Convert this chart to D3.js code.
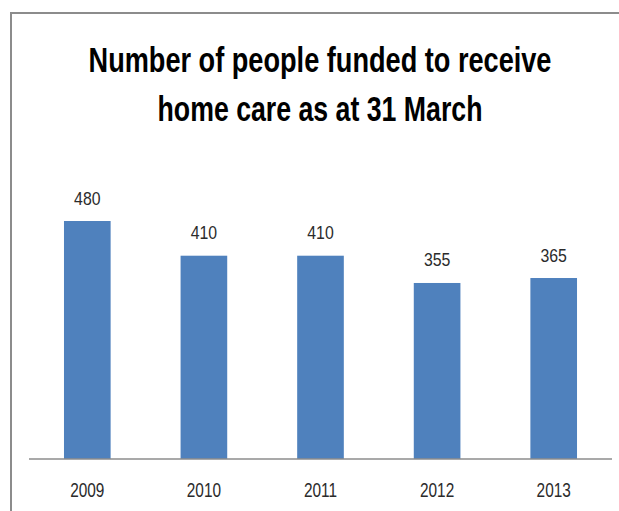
<!DOCTYPE html>
<html>
<head>
<meta charset="utf-8">
<script src="https://cdn.jsdelivr.net/npm/d3@7"></script>
<style>
  html, body { margin: 0; padding: 0; background: #fff; }
  svg { display: block; }
</style>
</head>
<body>
<svg id="chart" width="619" height="511"></svg>
<script>
// Chart data
const years = ["2009", "2010", "2011", "2012", "2013"];
const peopleFunded = [480, 410, 410, 355, 365];
const titleLines = ["Number of people funded to receive", "home care as at 31 March"];

const W = 619, H = 511;
const FONT = "'Liberation Sans', Arial, sans-serif";
const svg = d3.select("#chart");

// Condensed look: squeeze text horizontally around its anchor point
function placeCondensed(sel, xf, yf, sx) {
  sel.attr("x", 0).attr("y", 0)
    .attr("transform", (d, i) => `translate(${xf(d, i)},${yf(d, i)}) scale(${sx},1)`);
}

// Frame: top and left edges of the chart box
svg.append("line")
  .attr("x1", 10).attr("x2", W).attr("y1", 13).attr("y2", 13)
  .attr("stroke", "#8c8c8c").attr("stroke-width", 2);
svg.append("line")
  .attr("x1", 11).attr("x2", 11).attr("y1", 12).attr("y2", H)
  .attr("stroke", "#8c8c8c").attr("stroke-width", 2);

// Title (bold, condensed), each line fitted to its width
const titleWidths = [463, 325];
const titleBaselines = [71.5, 120.5];
svg.append("g").selectAll("text")
  .data(titleLines)
  .join("text")
  .attr("text-anchor", "middle")
  .attr("font-family", FONT)
  .attr("font-weight", "bold")
  .attr("font-size", 36)
  .attr("fill", "#000")
  .text(d => d)
  .each(function (d, i) {
    const natural = this.getComputedTextLength();
    d3.select(this).attr("transform",
      `translate(320,${titleBaselines[i]}) scale(${titleWidths[i] / natural},1)`);
  });

// Scales
const x = d3.scaleBand()
  .domain(years)
  .range([29, 612])
  .paddingInner(0.6)
  .paddingOuter(0.3);

const y = d3.scaleLinear()
  .domain([0, 600])
  .range([459, 161.5]);

// Bars
svg.append("g").selectAll("rect")
  .data(peopleFunded)
  .join("rect")
  .attr("x", (d, i) => x(years[i]))
  .attr("y", d => y(d))
  .attr("width", x.bandwidth())
  .attr("height", d => y(0) - y(d))
  .attr("fill", "#4f81bd");

// Value labels above bars
const valueLabels = svg.append("g").selectAll("text")
  .data(peopleFunded)
  .join("text")
  .attr("text-anchor", "middle")
  .attr("font-family", FONT)
  .attr("font-size", 18)
  .attr("fill", "#2b2b2b")
  .text(d => d);
placeCondensed(valueLabels,
  (d, i) => x(years[i]) + x.bandwidth() / 2,
  d => y(d) - 16.5,
  0.88);

// Category axis
const xAxis = d3.axisBottom(x).tickSize(0).tickPadding(0);
const axisG = svg.append("g")
  .attr("transform", `translate(0,${y(0)})`)
  .call(xAxis);
axisG.select(".domain")
  .attr("stroke", "#8c8c8c")
  .attr("stroke-width", 1.5)
  .attr("d", `M${x.range()[0]},0H${x.range()[1]}`);
const tickText = axisG.selectAll(".tick text")
  .attr("dy", null)
  .attr("font-family", FONT)
  .attr("font-size", 20)
  .attr("fill", "#2b2b2b");
placeCondensed(tickText, () => 0, () => 38, 0.77);
</script>
</body>
</html>
